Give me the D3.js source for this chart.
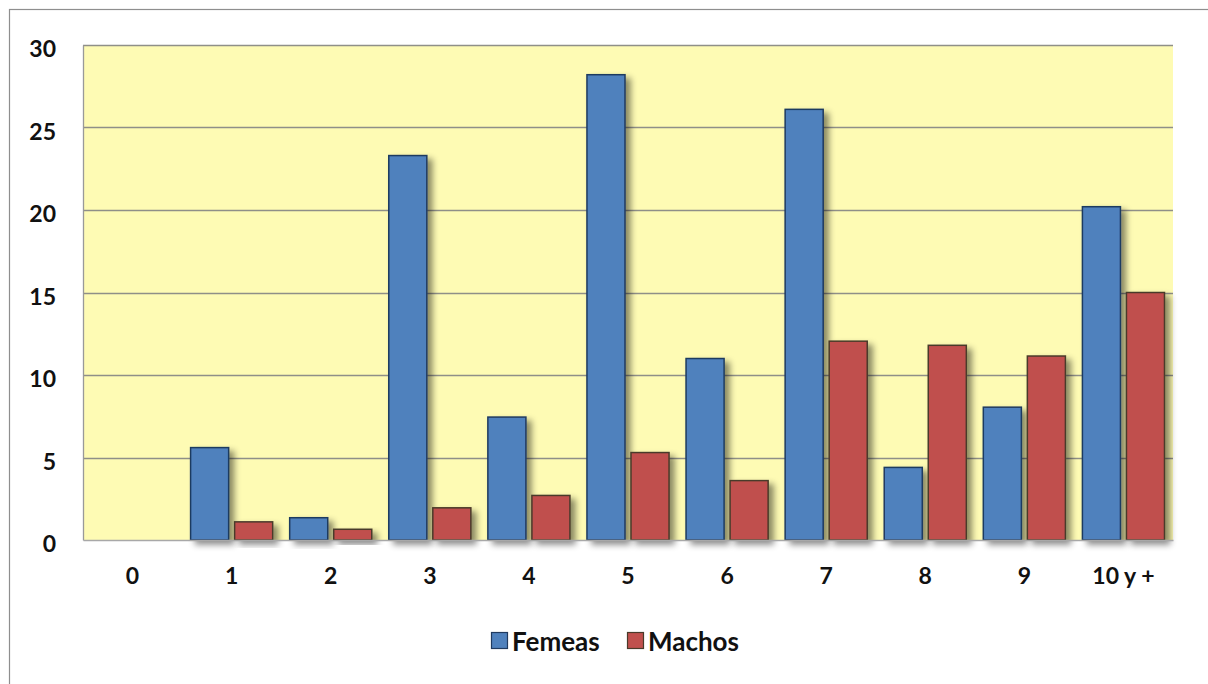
<!DOCTYPE html>
<html>
<head>
<meta charset="utf-8">
<script src="https://cdn.jsdelivr.net/npm/d3@7"></script>
<style>
  html, body { margin: 0; padding: 0; background: #fff; }
  svg { display: block; }
  text { font-family: Lato, "Liberation Sans", sans-serif; font-weight: 700; fill: #111; }
</style>
</head>
<body>
<svg id="chart" width="1208" height="684"></svg>
<script>
// Age classes and counts per sex
const categories = ["0", "1", "2", "3", "4", "5", "6", "7", "8", "9", "10 y +"];
const seriesNames = ["Femeas", "Machos"];
const femeas = [0, 5.6, 1.35, 23.3, 7.45, 28.2, 11.0, 26.1, 4.4, 8.05, 20.2];
const machos = [0, 1.1, 0.65, 1.95, 2.7, 5.3, 3.6, 12.05, 11.8, 11.15, 15.0];
const yTicks = [0, 5, 10, 15, 20, 25, 30];
const colors = { Femeas: "#4F81BD", Machos: "#C0504D" };
const strokes = { Femeas: "#1F3A60", Machos: "#4A3A2A" };

const rows = categories.map((c, i) => ({ cat: c, Femeas: femeas[i], Machos: machos[i] }));

const svg = d3.select("#chart");
const plot = { left: 83, right: 1173, top: 45, bottom: 540 };
const labelFont = "Lato, 'Liberation Sans', sans-serif";

// Outer frame (only top and left edges fall inside the canvas)
svg.append("rect")
  .attr("x", 9.5).attr("y", 9.5)
  .attr("width", 1220).attr("height", 700)
  .attr("fill", "none").attr("stroke", "#8e8e8e").attr("stroke-width", 1.2);

const defs = svg.append("defs");
const f = defs.append("filter").attr("id", "shadow")
  .attr("x", "-20%").attr("y", "-20%").attr("width", "160%").attr("height", "160%");
f.append("feDropShadow")
  .attr("dx", 5).attr("dy", 4).attr("stdDeviation", 3)
  .attr("flood-color", "#000").attr("flood-opacity", 0.45);

const x = d3.scaleBand().domain(categories).range([plot.left, plot.right]).padding(0);
const inner = d3.scaleBand().domain(seriesNames)
  .range([8.5, x.bandwidth() - 8.5]).paddingInner(0.136).paddingOuter(0);
const y = d3.scaleLinear().domain([0, 30]).range([plot.bottom, plot.top]);

// Plot background
svg.append("rect")
  .attr("x", plot.left).attr("y", plot.top)
  .attr("width", plot.right - plot.left).attr("height", plot.bottom - plot.top)
  .attr("fill", "#FEFBB4");

// Horizontal gridlines
svg.append("g").selectAll("line").data(yTicks.filter(t => t > 0)).join("line")
  .attr("x1", plot.left).attr("x2", plot.right)
  .attr("y1", d => Math.round(y(d)) + 0.5).attr("y2", d => Math.round(y(d)) + 0.5)
  .attr("stroke", "#8f8f88").attr("stroke-width", 1.3);

// Y axis
const yAxis = svg.append("g")
  .attr("transform", `translate(${plot.left},0)`)
  .call(d3.axisLeft(y).tickValues(yTicks).tickSize(0).tickPadding(27));
yAxis.select(".domain").attr("stroke", "#999").attr("stroke-width", 1.3);
yAxis.selectAll("text")
  .attr("font-size", 23).attr("dy", "0.5em")
  .attr("font-family", labelFont).attr("font-weight", 700).attr("fill", "#111");

// Bars
const groups = svg.append("g").selectAll("g").data(rows).join("g")
  .attr("transform", d => `translate(${x(d.cat)},0)`);
groups.selectAll("rect")
  .data(d => seriesNames.map(s => ({ s, v: d[s] })).filter(e => e.v > 0))
  .join("rect")
  .attr("x", e => inner(e.s))
  .attr("y", e => y(e.v))
  .attr("width", inner.bandwidth())
  .attr("height", e => y(0) - y(e.v))
  .attr("fill", e => colors[e.s])
  .attr("stroke", e => strokes[e.s])
  .attr("stroke-width", 1.5)
  .attr("filter", "url(#shadow)");

// X axis
const xAxis = svg.append("g")
  .attr("transform", `translate(0,${plot.bottom})`)
  .call(d3.axisBottom(x).tickSize(0).tickPadding(28));
xAxis.select(".domain").attr("stroke", "#a8a8a8").attr("stroke-width", 1.5);
xAxis.selectAll("text")
  .attr("font-size", 23)
  .attr("font-family", labelFont).attr("font-weight", 700).attr("fill", "#111");

// Legend
const legend = svg.append("g");
const legendItems = [
  { name: "Femeas", x: 491 },
  { name: "Machos", x: 627 }
];
legendItems.forEach(it => {
  legend.append("rect")
    .attr("x", it.x + 0.5).attr("y", 632.5).attr("width", 16).attr("height", 16)
    .attr("fill", colors[it.name]).attr("stroke", strokes[it.name]).attr("stroke-width", 1.2);
  legend.append("text")
    .attr("x", it.x + 21).attr("y", 651)
    .attr("font-size", 26)
    .text(it.name);
});
</script>
</body>
</html>
